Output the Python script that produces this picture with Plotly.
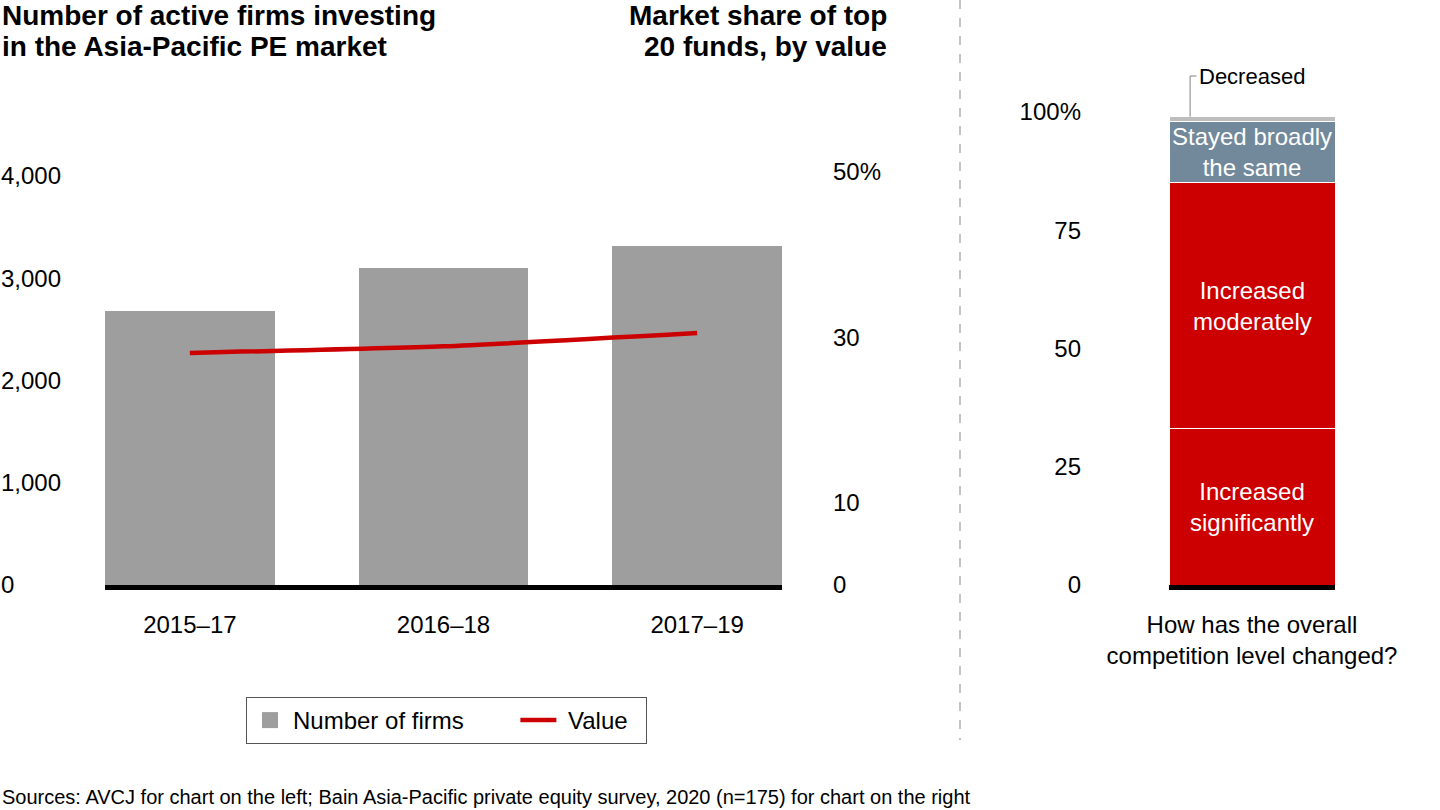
import plotly.graph_objects as go

# ---------------- data ----------------
periods = ["2015–17", "2016–18", "2017–19"]
num_firms = [2680, 3100, 3320]
top20_share = [28.1, 28.9, 30.5]

firm_ticks = [0, 1000, 2000, 3000, 4000]
firm_tick_text = ["0", "1,000", "2,000", "3,000", "4,000"]
share_ticks = [0, 10, 30, 50]
share_tick_text = ["0", "10", "30", "50%"]

survey_question = ["How has the overall<br>competition level changed?"]
response_names = ["Increased significantly", "Increased moderately",
                  "Stayed broadly the same", "Decreased"]
response_inside = ["Increased<br>significantly", "Increased<br>moderately",
                   "Stayed broadly<br>the same", ""]
response_pct = [33, 52, 13, 1]
pct_ticks = [0, 25, 50, 75, 100]
pct_tick_text = ["0", "25", "50", "75", "100%"]

# ---------------- styling ----------------
W, H = 1440, 810
FONT = "Liberation Sans, Arial, Helvetica, sans-serif"
GRAY_BAR = "#9E9E9E"
RED = "#CC0000"
response_colors = [RED, RED, "#72899B", "#BDBDBD"]
NBSP = "\u00a0"


def px(x):
    return x / W


def py(y):
    return 1 - y / H


fig = go.Figure()

fig.add_trace(go.Bar(
    x=periods, y=num_firms, name="Number of firms", showlegend=False,
    marker=dict(color=GRAY_BAR, line=dict(width=0)),
    width=0.669, xaxis="x", yaxis="y",
))
# legend proxy for the bars (larger square symbol)
fig.add_trace(go.Scatter(
    x=[None], y=[None], name="Number of firms" + NBSP * 7, mode="markers",
    marker=dict(symbol="square", size=19, color=GRAY_BAR),
    xaxis="x", yaxis="y",
))
fig.add_trace(go.Scatter(
    x=periods, y=top20_share, name=NBSP + "Value" + NBSP * 2, mode="lines",
    line=dict(color=RED, width=4.5, shape="spline", smoothing=0.6),
    xaxis="x", yaxis="y2",
))

for name, val, col in zip(response_names, response_pct, response_colors):
    fig.add_trace(go.Bar(
        x=survey_question, y=[val], name=name, showlegend=False,
        marker=dict(color=col, line=dict(color="white", width=1)),
        width=1, xaxis="x3", yaxis="y3",
    ))

annotations = []
cum = 0
for val, label in zip(response_pct, response_inside):
    mid = cum + val / 2
    cum += val
    if label:
        annotations.append(dict(
            x=0, y=mid, xref="x3", yref="y3", text=label, showarrow=False,
            font=dict(family=FONT, size=24, color="white"),
            xanchor="center", yanchor="middle", align="center",
        ))

top_val = sum(response_pct)
lead_y = (585 - 76) / 4.73
annotations.append(dict(
    x=-0.33, y=lead_y, xref="x3", yref="y3", text="Decreased", showarrow=False,
    font=dict(family=FONT, size=22, color="black"), xanchor="left", yanchor="middle",
))

title_font = dict(family=FONT, size=28, color="black")
for i, line in enumerate(["<b>Number of active firms investing</b>",
                          "<b>in the Asia-Pacific PE market</b>"]):
    annotations.append(dict(
        x=px(0), y=py(16 + 30 * i), xref="paper", yref="paper", text=line,
        showarrow=False, font=title_font, xanchor="left", yanchor="middle",
    ))
for i, line in enumerate(["<b>Market share of top</b>",
                          "<b>20 funds, by value</b>"]):
    annotations.append(dict(
        x=px(889), y=py(16 + 30 * i), xref="paper", yref="paper", text=line,
        showarrow=False, font=title_font, xanchor="right", yanchor="middle",
    ))

annotations.append(dict(
    x=px(0), y=py(797), xref="paper", yref="paper",
    text="Sources: AVCJ for chart on the left; Bain Asia-Pacific private equity survey, 2020 (n=175) for chart on the right",
    showarrow=False, font=dict(family=FONT, size=20, color="black"),
    xanchor="left", yanchor="middle",
))

shapes = [
    dict(type="line", xref="paper", yref="paper", x0=px(960), x1=px(960),
         y0=py(0), y1=py(740), line=dict(color="#C4C4C4", width=2, dash="dash")),
    dict(type="path", xref="x3", yref="y3",
         path=f"M -0.373 {top_val} L -0.373 {lead_y} L -0.335 {lead_y}",
         line=dict(color="#808080", width=1)),
]

tick_font = dict(family=FONT, size=24, color="black")
common = dict(showgrid=False, zeroline=False, ticks="", automargin=False)

fig.update_layout(
    template="none",
    width=W, height=H, autosize=False,
    margin=dict(l=0, r=0, t=0, b=0, pad=0, autoexpand=False),
    paper_bgcolor="white", plot_bgcolor="white",
    barmode="stack",
    font=dict(family=FONT, size=24, color="black"),
    xaxis=dict(domain=[px(105), px(782)], anchor="y", range=[-0.3346, 2.3346],
               showline=True, linecolor="black", linewidth=5,
               ticklabelstandoff=14, tickfont=tick_font, **common),
    yaxis=dict(domain=[py(585), py(100)], range=[0, 485 / 0.10225],
               anchor="free", position=0, side="right", showline=False,
               tickvals=firm_ticks, ticktext=firm_tick_text, tickfont=tick_font,
               **common),
    yaxis2=dict(overlaying="y", range=[0, 485 / 8.26], anchor="free",
                position=px(832), side="right", showline=False,
                tickvals=share_ticks, ticktext=share_tick_text, tickfont=tick_font,
                **common),
    xaxis3=dict(domain=[px(1169), px(1335)], anchor="y3", range=[-0.5, 0.5],
                showline=True, linecolor="black", linewidth=5,
                ticklabelstandoff=14, tickfont=tick_font, **common),
    yaxis3=dict(domain=[py(585), py(60)], range=[0, 525 / 4.73],
                anchor="free", position=px(1081), side="left", showline=False,
                tickvals=pct_ticks, ticktext=pct_tick_text, tickfont=tick_font,
                **common),
    legend=dict(orientation="h", x=px(246), y=py(697), xanchor="left", yanchor="top",
                bordercolor="#555555", borderwidth=1, font=dict(family=FONT, size=24),
                itemwidth=36, bgcolor="white", traceorder="normal"),
    annotations=annotations,
    shapes=shapes,
)

fig.write_html(
    "out.html",
    config={"displayModeBar": False},
    post_script="document.body.style.margin='0';document.body.style.overflow='hidden';",
)
